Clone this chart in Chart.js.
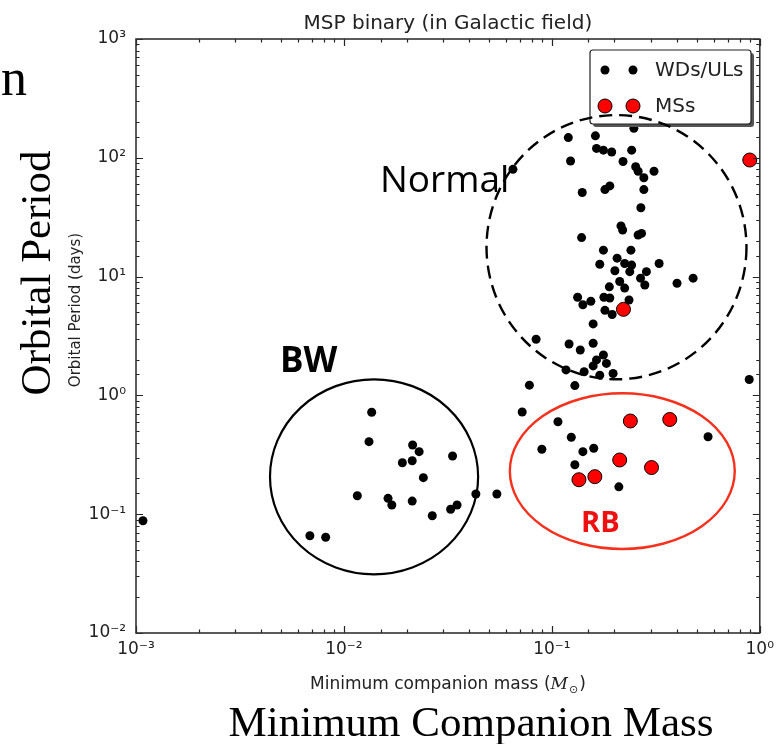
<!DOCTYPE html>
<html>
<head>
<meta charset="utf-8">
<title>MSP binary (in Galactic field)</title>
<script src="https://cdn.jsdelivr.net/npm/chart.js@4.4.1/dist/chart.umd.min.js"></script>
<style>
  html, body { margin: 0; padding: 0; background: #fff; }
  #wrap { width: 780px; height: 744px; }
</style>
</head>
<body>
<div id="wrap"><canvas id="chart" width="780" height="744"></canvas></div>
<script>
// ===============================
// DATOS
// ===============================
// WDs/ULs: masa mínima de la compañera (M_sun) y periodo orbital (días)
const wdMass = [
  0.120, 0.162, 0.248, 0.164, 0.177, 0.194, 0.242, 0.123, 0.220, 0.253,
  0.260, 0.277, 0.310, 0.065, 0.277, 0.190, 0.180, 0.140, 0.268, 0.215,
  0.219, 0.260, 0.270, 0.139, 0.177, 0.240, 0.206, 0.170, 0.224, 0.242,
  0.328, 0.201, 0.237, 0.285, 0.267, 0.280, 0.212, 0.224, 0.189, 0.400,
  0.478, 0.133, 0.141, 0.154, 0.178, 0.190, 0.235, 0.180, 0.195, 0.158,
  0.084, 0.121, 0.137, 0.158, 0.177, 0.164, 0.183, 0.158, 0.117, 0.143,
  0.170, 0.197, 0.078, 0.129, 0.890, 0.072, 0.107, 0.124, 0.0895, 0.141,
  0.159, 0.129, 0.210, 0.564, 0.0431, 0.0544, 0.0136, 0.0132, 0.0214, 0.0230,
  0.0191, 0.0213, 0.0333, 0.0241, 0.0116, 0.0163, 0.0170, 0.0213, 0.0266, 0.0326,
  0.0350, 0.00686, 0.00817, 0.00108
];
const wdPeriod = [
  148, 153, 177, 120, 116, 112, 116, 94, 93, 84,
  77, 68, 77, 80, 54, 58, 54, 51, 38, 26.7,
  24.7, 22.4, 23.1, 21.3, 16.7, 16.7, 14.3, 12.7, 12.9, 12.5,
  12.9, 11.2, 11.0, 11.0, 9.7, 8.5, 9.1, 8.0, 8.2, 8.8,
  9.7, 6.7, 5.8, 6.2, 6.7, 6.6, 6.35, 5.2, 4.8, 4.0,
  2.97, 2.71, 2.41, 2.75, 2.19, 1.99, 1.86, 1.77, 1.64, 1.58,
  1.48, 1.53, 1.22, 1.21, 1.36, 0.725, 0.60, 0.444, 0.352, 0.336,
  0.359, 0.261, 0.170, 0.449, 0.148, 0.148, 0.721, 0.408, 0.382, 0.336,
  0.271, 0.282, 0.309, 0.203, 0.143, 0.136, 0.1195, 0.129, 0.097, 0.110,
  0.1195, 0.0659, 0.0639, 0.0881
];

// MSs
const msMass = [0.895, 0.221, 0.2385, 0.369, 0.212, 0.3015, 0.135, 0.161];
const msPeriod = [95.8, 5.3, 0.609, 0.627, 0.286, 0.247, 0.195, 0.207];

// Regiones marcadas (límites en unidades de datos)
const regionNames = ["BW", "Normal", "RB"];
const regionMassLo = [0.00441, 0.0485, 0.0628];
const regionMassHi = [0.0442, 0.863, 0.758];
const regionPeriodLo = [0.0312, 1.366, 0.051];
const regionPeriodHi = [1.366, 229, 1.042];

// Etiquetas de los ejes
const supDigits = { "-": "\u207B", "0": "\u2070", "1": "\u00B9", "2": "\u00B2", "3": "\u00B3" };
function powLabel(v) {
  const e = Math.log10(v);
  if (Math.abs(e - Math.round(e)) > 1e-6) return "";
  return "10" + String(Math.round(e)).split("").map(c => supDigits[c]).join("");
}
function isDecade(v) {
  const e = Math.log10(v);
  return Math.abs(e - Math.round(e)) < 1e-6;
}

// ===============================
// DECORACIÓN: marco, leyenda, regiones, textos
// ===============================
const decor = {
  id: "decor",
  afterDatasetsDraw(chart) {
    const { ctx, chartArea: a, scales: { x, y } } = chart;
    ctx.save();
    ctx.strokeStyle = "#222";
    ctx.lineWidth = 1.2;
    ctx.beginPath();
    x.ticks.forEach(t => {
      const px = Math.round(x.getPixelForValue(t.value)) + 0.5;
      const len = isDecade(t.value) ? 7 : 3.5;
      ctx.moveTo(px, a.bottom); ctx.lineTo(px, a.bottom - len);
      ctx.moveTo(px, a.top); ctx.lineTo(px, a.top + len);
    });
    y.ticks.forEach(t => {
      const py = Math.round(y.getPixelForValue(t.value)) + 0.5;
      const len = isDecade(t.value) ? 7 : 3.5;
      ctx.moveTo(a.left, py); ctx.lineTo(a.left + len, py);
      ctx.moveTo(a.right, py); ctx.lineTo(a.right - len, py);
    });
    ctx.stroke();
    ctx.lineWidth = 1.6;
    ctx.strokeStyle = "#333";
    ctx.strokeRect(a.left, a.top, a.right - a.left, a.bottom - a.top);
    ctx.restore();
  },
  afterDraw(chart) {
    const { ctx, chartArea: a, scales: { x, y } } = chart;
    const ds = chart.data.datasets;
    ctx.save();

    // título
    ctx.fillStyle = "#222";
    ctx.font = "20px 'DejaVu Sans'";
    ctx.textAlign = "center";
    ctx.textBaseline = "alphabetic";
    ctx.fillText("MSP binary (in Galactic field)", (a.left + a.right) / 2, 29);

    // título eje x: Minimum companion mass (M_sun)
    ctx.font = "17px 'DejaVu Sans'";
    ctx.textAlign = "left";
    const p1 = "Minimum companion mass (";
    const w1 = ctx.measureText(p1).width;
    ctx.font = "italic 17px 'DejaVu Serif'";
    const wM = ctx.measureText("M").width;
    ctx.font = "11px 'DejaVu Sans'";
    const wS = ctx.measureText("\u2299").width;
    ctx.font = "17px 'DejaVu Sans'";
    const wP = ctx.measureText(")").width;
    let tx = (a.left + a.right) / 2 - (w1 + wM + wS + wP + 2) / 2;
    const ty = 689;
    ctx.fillText(p1, tx, ty); tx += w1;
    ctx.font = "italic 17px 'DejaVu Serif'";
    ctx.fillText("M", tx, ty); tx += wM + 1;
    ctx.font = "11px 'DejaVu Sans'";
    ctx.fillText("\u2299", tx, ty + 4); tx += wS + 1;
    ctx.font = "17px 'DejaVu Sans'";
    ctx.fillText(")", tx, ty);

    // título eje y
    ctx.save();
    ctx.translate(80, 310);
    ctx.rotate(-Math.PI / 2);
    ctx.textAlign = "center";
    ctx.font = "15px 'DejaVu Sans'";
    ctx.fillText("Orbital Period (days)", 0, 0);
    ctx.restore();

    // leyenda con sombra
    const lx = 590, ly = 50, lw = 161, lh = 74;
    ctx.fillStyle = "#555";
    ctx.beginPath(); ctx.roundRect(lx + 3, ly + 3, lw, lh, 3); ctx.fill();
    ctx.fillStyle = "#fff";
    ctx.strokeStyle = "#222";
    ctx.lineWidth = 1.2;
    ctx.beginPath(); ctx.roundRect(lx, ly, lw, lh, 3); ctx.fill(); ctx.stroke();
    const rows = [70, 106];
    ds.forEach((d, i) => {
      [605, 633].forEach(mx => {
        ctx.beginPath();
        ctx.arc(mx, rows[i], d.pointRadius, 0, Math.PI * 2);
        ctx.fillStyle = d.backgroundColor;
        ctx.fill();
        if (d.borderWidth) { ctx.strokeStyle = d.borderColor; ctx.lineWidth = d.borderWidth; ctx.stroke(); }
      });
      ctx.fillStyle = "#222";
      ctx.font = "20px 'DejaVu Sans'";
      ctx.textAlign = "left";
      ctx.textBaseline = "middle";
      ctx.fillText(d.label, 655, rows[i] + 1);
    });

    // regiones
    const styles = [
      { color: "#000", dash: [], width: 2.2 },
      { color: "#000", dash: [13, 7], width: 2.4 },
      { color: "#f5301c", dash: [], width: 2.4 }
    ];
    regionNames.forEach((n, i) => {
      const x0 = x.getPixelForValue(regionMassLo[i]);
      const x1 = x.getPixelForValue(regionMassHi[i]);
      const y0 = y.getPixelForValue(regionPeriodHi[i]);
      const y1 = y.getPixelForValue(regionPeriodLo[i]);
      ctx.beginPath();
      ctx.ellipse((x0 + x1) / 2, (y0 + y1) / 2, (x1 - x0) / 2, (y1 - y0) / 2, 0, 0, Math.PI * 2);
      ctx.setLineDash(styles[i].dash);
      ctx.strokeStyle = styles[i].color;
      ctx.lineWidth = styles[i].width;
      ctx.stroke();
    });
    ctx.setLineDash([]);

    // textos de las regiones
    ctx.textBaseline = "alphabetic";
    ctx.textAlign = "left";
    ctx.fillStyle = "#000";
    ctx.font = "37px 'Open Sans'";
    ctx.fillText("Normal", 380, 192);
    ctx.font = "bold 35px 'Open Sans'";
    ctx.fillText("BW", 280, 372);
    ctx.fillStyle = "#ee1111";
    ctx.font = "bold 29px 'Open Sans'";
    ctx.fillText("RB", 581, 532);

    // textos grandes superpuestos
    ctx.fillStyle = "#000";
    ctx.font = "43px 'Liberation Serif'";
    ctx.textAlign = "center";
    ctx.fillText("Minimum Companion Mass", 471, 736);
    ctx.save();
    ctx.translate(50, 273);
    ctx.rotate(-Math.PI / 2);
    ctx.fillText("Orbital Period", 0, 0);
    ctx.restore();
    ctx.textAlign = "right";
    ctx.font = "52px 'Liberation Serif'";
    ctx.fillText("on", 27, 95);

    ctx.restore();
  }
};

// ===============================
// GRÁFICO
// ===============================
const tickFont = { family: "DejaVu Sans", size: 17 };

new Chart(document.getElementById("chart"), {
  type: "scatter",
  data: {
    datasets: [
      {
        label: "WDs/ULs",
        data: wdMass.map((m, i) => ({ x: m, y: wdPeriod[i] })),
        pointStyle: "circle",
        pointRadius: 4.5,
        backgroundColor: "#000",
        borderColor: "#000",
        borderWidth: 0
      },
      {
        label: "MSs",
        data: msMass.map((m, i) => ({ x: m, y: msPeriod[i] })),
        pointStyle: "circle",
        pointRadius: 7,
        backgroundColor: "#ff0000",
        borderColor: "#000",
        borderWidth: 1
      }
    ]
  },
  options: {
    responsive: false,
    animation: false,
    devicePixelRatio: 1,
    layout: { padding: { left: 0, top: 39, right: 20, bottom: 0 } },
    plugins: { legend: { display: false }, tooltip: { enabled: false } },
    scales: {
      x: {
        type: "logarithmic",
        min: 0.001,
        max: 1,
        afterFit: s => { s.height = 111; },
        grid: { display: false, drawTicks: false },
        border: { display: false },
        ticks: { autoSkip: false, maxRotation: 0, padding: 6, font: tickFont, color: "#222", callback: v => powLabel(v) }
      },
      y: {
        type: "logarithmic",
        min: 0.01,
        max: 1000,
        afterFit: s => { s.width = 136; },
        grid: { display: false, drawTicks: false },
        border: { display: false },
        ticks: { autoSkip: false, padding: 10, font: tickFont, color: "#222", callback: v => powLabel(v) }
      }
    }
  },
  plugins: [decor]
});
</script>
</body>
</html>
